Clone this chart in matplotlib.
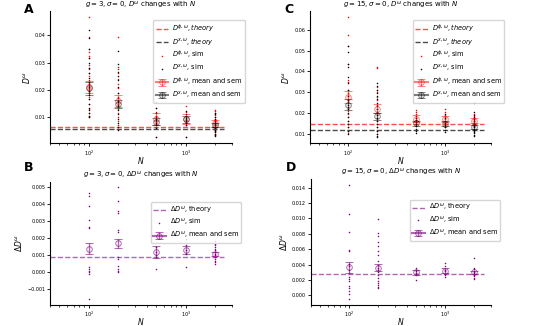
import numpy as np
import matplotlib
matplotlib.use('Agg')
import matplotlib.pyplot as plt

N_vals = [100, 200, 500, 1000, 2000]

# --- panel A: g=3 ---
A_phi_sim = [
    [0.0465, 0.0395, 0.035, 0.034, 0.0325, 0.0315, 0.029, 0.028, 0.0275, 0.026, 0.025,
     0.0235, 0.022, 0.0205, 0.019, 0.0175, 0.0165, 0.015, 0.013, 0.0115, 0.0105, 0.010],
    [0.0393, 0.0285, 0.0275, 0.026, 0.024, 0.022, 0.0205, 0.019, 0.0175, 0.016, 0.0145,
     0.013, 0.0115, 0.010, 0.0085, 0.007, 0.0058],
    [0.0156, 0.0135, 0.012, 0.0105, 0.0095, 0.0085, 0.0075, 0.0065, 0.0027],
    [0.0140, 0.0118, 0.0105, 0.0095, 0.009, 0.008, 0.0072, 0.0028],
    [0.0128, 0.0122, 0.0115, 0.0108, 0.010, 0.0095, 0.009, 0.0085, 0.008, 0.0075, 0.007,
     0.0065, 0.006, 0.0055, 0.005, 0.0045, 0.004, 0.0035],
]
A_x_sim = [
    [0.042, 0.039, 0.035, 0.0315, 0.030, 0.028, 0.026, 0.0245, 0.023, 0.021, 0.0195,
     0.018, 0.0165, 0.015, 0.0135, 0.0125, 0.0115, 0.0105, 0.0100],
    [0.0343, 0.0295, 0.0265, 0.025, 0.0235, 0.021, 0.019, 0.017, 0.0155, 0.014, 0.0125,
     0.011, 0.0095, 0.008, 0.0065, 0.0055],
    [0.0132, 0.0115, 0.0100, 0.009, 0.008, 0.007, 0.006, 0.0028],
    [0.0122, 0.011, 0.0098, 0.009, 0.0085, 0.0078, 0.007, 0.0026],
    [0.0115, 0.011, 0.0102, 0.0095, 0.009, 0.0085, 0.008, 0.0075, 0.007, 0.0065, 0.006,
     0.0055, 0.005, 0.0045, 0.004, 0.0035, 0.003],
]
A_phi_mean = [0.0212, 0.0158, 0.0092, 0.0094, 0.0078]
A_phi_sem = [0.0022, 0.0022, 0.0022, 0.0019, 0.0012]
A_x_mean = [0.0205, 0.0148, 0.0083, 0.0092, 0.0072]
A_x_sem = [0.0022, 0.0016, 0.0013, 0.0012, 0.0008]
A_phi_theory = 0.0066
A_x_theory = 0.0056

# --- panel C: g=15 ---
C_phi_sim = [
    [0.066, 0.0575, 0.052, 0.0435, 0.036, 0.035, 0.031, 0.0295, 0.028, 0.0265, 0.025,
     0.023, 0.021, 0.0195, 0.018, 0.016, 0.0145, 0.013, 0.0115, 0.0105],
    [0.042, 0.0415, 0.0325, 0.031, 0.030, 0.0275, 0.026, 0.024, 0.022, 0.0205, 0.019,
     0.0175, 0.016, 0.0145, 0.013, 0.0115, 0.010],
    [0.0215, 0.0205, 0.0195, 0.0185, 0.0175, 0.0165, 0.0155, 0.0145, 0.0135],
    [0.0218, 0.0205, 0.019, 0.018, 0.017, 0.016, 0.015, 0.014, 0.013],
    [0.025, 0.0195, 0.0185, 0.0175, 0.017, 0.0165, 0.016, 0.0155, 0.015, 0.0145, 0.014,
     0.0135, 0.013],
]
C_x_sim = [
    [0.052, 0.0495, 0.0435, 0.042, 0.0375, 0.0345, 0.031, 0.028, 0.026, 0.024, 0.022,
     0.020, 0.018, 0.016, 0.0145, 0.013, 0.0115, 0.010],
    [0.0345, 0.033, 0.031, 0.0295, 0.028, 0.0265, 0.025, 0.0235, 0.022, 0.0205, 0.019,
     0.0175, 0.016, 0.0145, 0.013, 0.0115, 0.010, 0.0088, 0.0082],
    [0.0175, 0.0165, 0.0155, 0.0145, 0.0135, 0.0125, 0.0115, 0.0103],
    [0.0195, 0.0175, 0.016, 0.015, 0.014, 0.013, 0.012, 0.011],
    [0.0205, 0.019, 0.018, 0.017, 0.016, 0.015, 0.014, 0.0135, 0.013, 0.0125, 0.012,
     0.0115, 0.011, 0.0105, 0.0095, 0.009],
]
C_phi_mean = [0.0277, 0.0220, 0.0172, 0.0172, 0.0162]
C_phi_sem = [0.0029, 0.0022, 0.0017, 0.0015, 0.0012]
C_x_mean = [0.0240, 0.0185, 0.0150, 0.0147, 0.0132]
C_x_sem = [0.0025, 0.0017, 0.0012, 0.0012, 0.0009]
C_phi_theory = 0.0146
C_x_theory = 0.0119

# --- panel B: delta, g=3 ---
B_sim = [
    [0.00465, 0.0045, 0.0039, 0.0031, 0.0027, 0.0026, 0.0003, 0.0002, 0.0001, 0.0,
     -0.0001, -0.00158],
    [0.0050, 0.0042, 0.0036, 0.0035, 0.0025, 0.0024, 0.0009, 0.0008, 0.0004, 0.0002,
     0.0001, 0.0],
    [0.0015, 0.0012, 0.0010, 0.0009, 0.00018],
    [0.00195, 0.0016, 0.0013, 0.0011, 0.0003],
    [0.00185, 0.0017, 0.0016, 0.0015, 0.0014, 0.0013, 0.0012, 0.0011, 0.0010, 0.0009,
     0.0008, 0.0007, 0.0006, 0.0005],
]
B_mean = [0.00140, 0.00171, 0.00120, 0.00132, 0.00108]
B_sem = [0.00033, 0.00026, 0.00033, 0.00026, 0.00011]
B_theory = 0.00093

# --- panel D: delta, g=15 ---
D_sim = [
    [0.0144, 0.0106, 0.0083, 0.0059, 0.0057, 0.0041, 0.0038, 0.0033, 0.0029, 0.0024,
     0.0021, 0.0018, 0.0012, 0.0010, 0.0006, 0.0002, -0.0005],
    [0.0099, 0.0081, 0.0077, 0.0070, 0.0064, 0.0057, 0.0053, 0.0045, 0.0040, 0.0036,
     0.0033, 0.0030, 0.0026, 0.0022, 0.0019, 0.0016, 0.0013, 0.0011, 0.0009],
    [0.0036, 0.0033, 0.0031, 0.0029, 0.0027, 0.0020],
    [0.0042, 0.0038, 0.0033, 0.0031, 0.0028, 0.0026, 0.0024],
    [0.0048, 0.0036, 0.0034, 0.0032, 0.0030, 0.0029, 0.0027, 0.0025, 0.0023, 0.0021],
]
D_mean = [0.00364, 0.00360, 0.00300, 0.00320, 0.00300]
D_sem = [0.00070, 0.00045, 0.00030, 0.00030, 0.00020]
D_theory = 0.00272

N_line = [40, 2500]   # range of the theory lines

plt.rcParams['font.size'] = 5
fig = plt.figure(figsize=(5.38, 3.26), dpi=100)


def style_ax(ax, ylabel):
    ax.set_xscale('log')
    ax.set_xlim(40, 3000)
    ax.spines['top'].set_visible(False)
    ax.spines['right'].set_visible(False)
    ax.tick_params(labelsize=3.5, length=2.5, width=0.6, pad=1.0)
    ax.tick_params(which='minor', length=1.5, width=0.5)
    for s in ax.spines.values():
        s.set_linewidth(0.8)
    ax.set_xlabel('$N$', fontsize=5.5, labelpad=-2)
    ax.set_ylabel(ylabel, fontsize=5.5, labelpad=2)


def scatter_sim(ax, sims, color, label):
    first = True
    for n, vals in zip(N_vals, sims):
        ax.plot([n] * len(vals), vals, '.', color=color, ms=2.2, mew=0,
                label=label if first else None)
        first = False


def mean_sem(ax, means, sems, color, alpha, label):
    # one errorbar call per N, so the legend handle keeps its line
    for i, (n, m, s) in enumerate(zip(N_vals, means, sems)):
        ax.errorbar([n], [m], yerr=[s], marker='o', color=color, mfc='none',
                    ms=4, mew=0.7, capsize=3, elinewidth=1, capthick=1,
                    alpha=alpha, label=label if i == 0 else None)


def leg(ax, anchor):
    ax.legend(loc='upper right', bbox_to_anchor=anchor, fontsize=4.8,
              handlelength=1.9, handleheight=0.6, labelspacing=0.25,
              borderpad=0.35, handletextpad=0.6, framealpha=0.8)


def d_panel(ax, phi_sim, x_sim, phi_m, phi_s, x_m, x_s, phi_th, x_th, title):
    ax.plot(N_line, [phi_th] * 2, '--', color='red', alpha=0.7, lw=1,
            label=r'$D^{\phi,\omega}, theory$')
    ax.plot(N_line, [x_th] * 2, '--', color='black', alpha=0.7, lw=1,
            label=r'$D^{x,\omega}, theory$')
    scatter_sim(ax, phi_sim, 'red', r'$D^{\phi,\omega}$, sim')
    scatter_sim(ax, x_sim, 'black', r'$D^{x,\omega}$, sim')
    mean_sem(ax, phi_m, phi_s, 'red', 0.5, r'$D^{\phi,\omega}$, mean and sem')
    mean_sem(ax, x_m, x_s, 'black', 0.5, r'$D^{x,\omega}$, mean and sem')
    ax.set_title(title, fontsize=5.0, pad=1)
    style_ax(ax, r'$D^{\omega}$')
    leg(ax, (1.09, 0.96))


def delta_panel(ax, sim, m, s, th, title):
    ax.plot(N_line, [th] * 2, '--', color='purple', alpha=0.6, lw=1,
            label=r'$\Delta D^{\omega}$, theory')
    scatter_sim(ax, sim, 'purple', r'$\Delta D^{\omega}$, sim')
    mean_sem(ax, m, s, 'purple', 0.6, r'$\Delta D^{\omega}$, mean and sem')
    ax.set_title(title, fontsize=5.0, pad=3)
    style_ax(ax, r'$\Delta D^{\omega}$')
    leg(ax, (1.07, 0.86))


axA = fig.add_axes([0.093, 0.56, 0.338, 0.405])
axB = fig.add_axes([0.093, 0.065, 0.338, 0.377])
axC = fig.add_axes([0.576, 0.56, 0.337, 0.405])
axD = fig.add_axes([0.578, 0.065, 0.335, 0.386])

d_panel(axA, A_phi_sim, A_x_sim, A_phi_mean, A_phi_sem, A_x_mean, A_x_sem,
        A_phi_theory, A_x_theory, r'$g=3, \sigma=0$, $D^{\omega}$ changes with $N$')
d_panel(axC, C_phi_sim, C_x_sim, C_phi_mean, C_phi_sem, C_x_mean, C_x_sem,
        C_phi_theory, C_x_theory, r'$g=15, \sigma=0$, $D^{\omega}$ changes with $N$')
delta_panel(axB, B_sim, B_mean, B_sem, B_theory,
            r'$g=3, \sigma=0$, $\Delta D^{\omega}$ changes with $N$')
delta_panel(axD, D_sim, D_mean, D_sem, D_theory,
            r'$g=15, \sigma=0$, $\Delta D^{\omega}$ changes with $N$')

for lab, x, y in [('A', 0.045, 0.99), ('C', 0.528, 0.99), ('B', 0.045, 0.505), ('D', 0.532, 0.505)]:
    fig.text(x, y, lab, fontsize=9, fontweight='bold', va='top')

fig.savefig('out.png', dpi=100)
